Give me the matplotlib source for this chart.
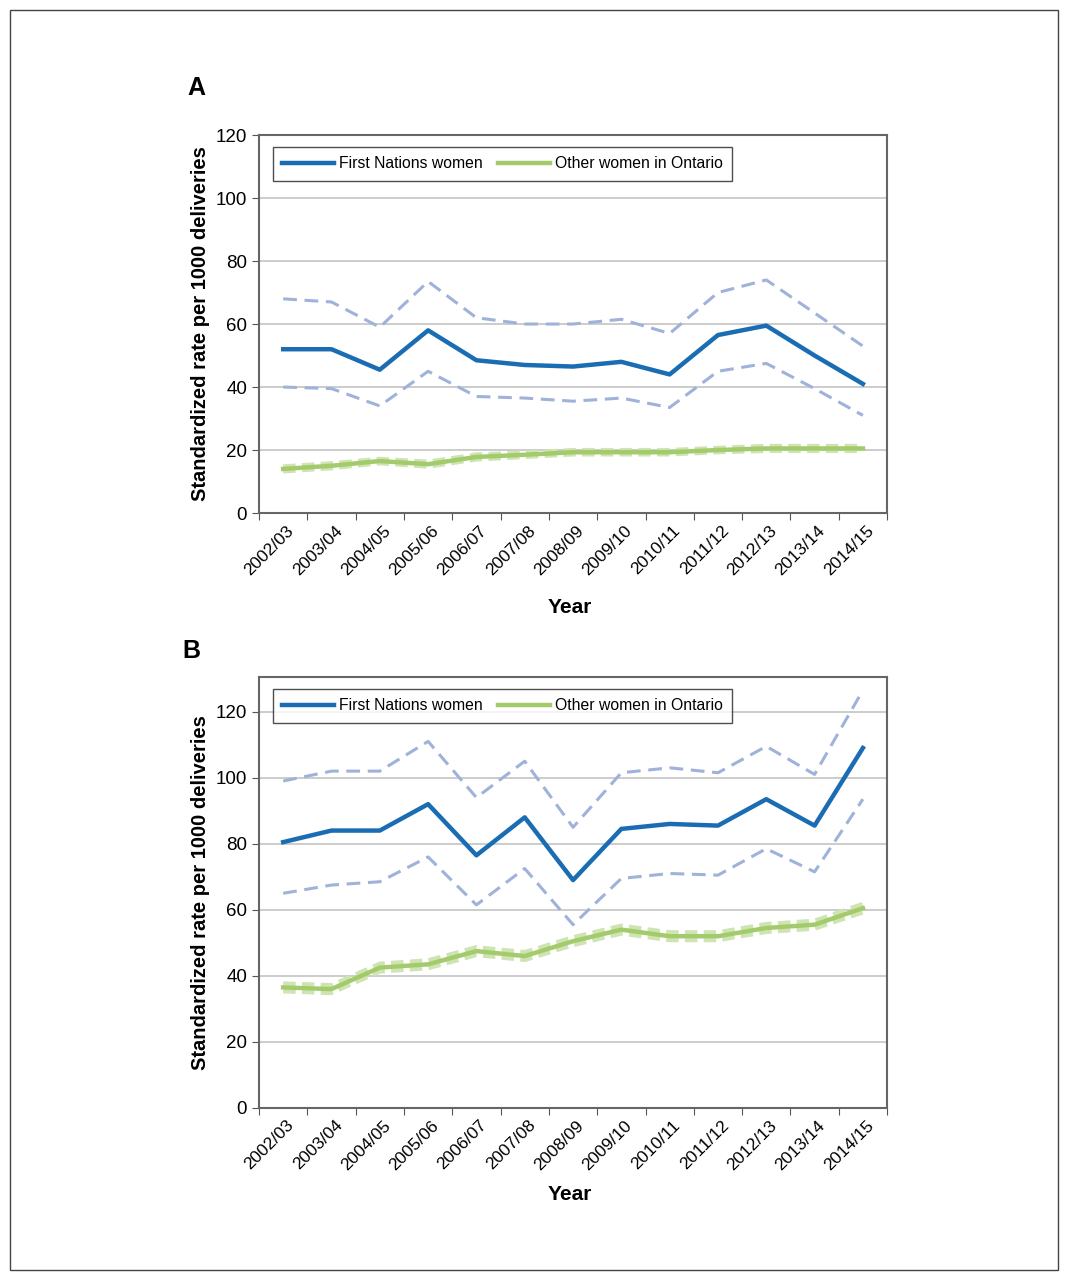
import matplotlib.pyplot as plt
from matplotlib.patches import Rectangle
from matplotlib.transforms import ScaledTranslation

plt.rcParams['font.family'] = ['Liberation Sans', 'DejaVu Sans']

years = ['2002/03', '2003/04', '2004/05', '2005/06', '2006/07', '2007/08', '2008/09',
         '2009/10', '2010/11', '2011/12', '2012/13', '2013/14', '2014/15']

# Panel A
a_fn = [52, 52, 45.5, 58, 48.5, 47, 46.5, 48, 44, 56.5, 59.5, 50, 41]
a_fn_hi = [68, 67, 59, 73.5, 62, 60, 60, 61.5, 57, 70, 74, 63.5, 53]
a_fn_lo = [40, 39.5, 34, 45, 37, 36.5, 35.5, 36.5, 33.5, 45, 47.5, 39.5, 31]
a_ot = [14, 15, 16.5, 15.5, 17.8, 18.5, 19.3, 19.3, 19.3, 20, 20.5, 20.5, 20.5]
a_ot_hi = [14.8, 15.8, 17.2, 16.3, 18.6, 19.2, 20, 20, 20, 20.7, 21.3, 21.3, 21.3]
a_ot_lo = [13.2, 14.2, 15.8, 14.7, 17, 17.8, 18.6, 18.6, 18.6, 19.3, 19.7, 19.7, 19.7]

# Panel B
b_fn = [80.5, 84, 84, 92, 76.5, 88, 69, 84.5, 86, 85.5, 93.5, 85.5, 109]
b_fn_hi = [99, 102, 102, 111, 94, 105, 85, 101.5, 103, 101.5, 109.5, 101, 126.5]
b_fn_lo = [65, 67.5, 68.5, 76, 61.5, 72.5, 55.5, 69.5, 71, 70.5, 78.5, 71.5, 93.5]
b_ot = [36.5, 36, 42.5, 43.5, 47.5, 46, 50.5, 54, 52, 52, 54.5, 55.5, 60.5]
b_ot_hi = [37.7, 37.2, 43.7, 44.7, 48.7, 47.2, 51.7, 55.2, 53.2, 53.2, 55.7, 56.7, 61.8]
b_ot_lo = [35.3, 34.8, 41.3, 42.3, 46.3, 44.8, 49.3, 52.8, 50.8, 50.8, 53.3, 54.3, 59.2]

blue = '#1a6db3'
blue_ci = '#9fb2da'
green = '#a3cb6b'
green_ci = '#cfe4b3'

fig = plt.figure(figsize=(10.69, 12.8), dpi=100)
fig.patches.append(Rectangle((10 / 1069, 10 / 1280), 1048 / 1069, 1260 / 1280,
                             transform=fig.transFigure, fill=False,
                             edgecolor='#444444', linewidth=1.0))


def panel(ax, fn, fn_hi, fn_lo, ot, ot_hi, ot_lo, ymax, year_y):
    x = list(range(len(years)))
    ax.plot(x, ot_hi, color=green_ci, lw=3, ls=(0, (3, 1.5)), zorder=2)
    ax.plot(x, ot_lo, color=green_ci, lw=3, ls=(0, (3, 1.5)), zorder=2)
    ax.plot(x, fn_hi, color=blue_ci, lw=2.2, ls=(0, (4.5, 2.5)), zorder=2)
    ax.plot(x, fn_lo, color=blue_ci, lw=2.2, ls=(0, (4.5, 2.5)), zorder=2)
    ax.plot(x, fn, color=blue, lw=3.2, label='First Nations women', zorder=3)
    ax.plot(x, ot, color=green, lw=3.2, label='Other women in Ontario', zorder=3)

    ax.set_xlim(-0.5, len(years) - 0.5)
    ax.set_ylim(0, ymax)
    ax.set_yticks(range(0, 121, 20))
    ax.yaxis.grid(True, color='#c4c4c4', lw=1.2)
    ax.set_axisbelow(True)
    ax.set_xticks([i + 0.5 for i in range(-1, len(years))], minor=False)
    ax.set_xticklabels([])
    ax.set_xticks(x, minor=True)
    ax.set_xticklabels(years, minor=True, rotation=45, ha='right',
                       rotation_mode='anchor', fontsize=12.5)
    ax.tick_params(axis='x', which='minor', length=0, pad=7)
    ax.tick_params(axis='x', which='major', length=5, color='#555555')
    ax.tick_params(axis='y', length=5, color='#555555', labelsize=13.5)
    shift = ScaledTranslation(3 / 100, 0, fig.dpi_scale_trans)
    for lab in ax.get_xticklabels(minor=True):
        lab.set_transform(lab.get_transform() + shift)
    for s in ax.spines.values():
        s.set_color('#666666')
        s.set_linewidth(1.5)
    ax.set_ylabel('Standardized rate per 1000 deliveries', fontsize=14.5,
                  fontweight='bold', labelpad=4)
    ax.text(0.495, year_y, 'Year', transform=ax.transAxes, fontsize=15,
            fontweight='bold', ha='center', va='center')
    leg = ax.legend(loc='upper left', ncol=2, fontsize=11.3, frameon=True,
                    fancybox=False, edgecolor='#222222', handlelength=3.3,
                    handletextpad=0.3, borderaxespad=0.75, columnspacing=1.0,
                    borderpad=0.6, bbox_to_anchor=(0.003, 1.0))
    leg.get_frame().set_linewidth(1.0)


axA = fig.add_axes([0.2423, 0.5992, 0.5875, 0.2953])
panel(axA, a_fn, a_fn_hi, a_fn_lo, a_ot, a_ot_hi, a_ot_lo, 120, -0.249)

axB = fig.add_axes([0.2423, 0.1344, 0.5875, 0.3367])
panel(axB, b_fn, b_fn_hi, b_fn_lo, b_ot, b_ot_hi, b_ot_lo, 130.5, -0.2)

fig.text(187 / 1069, 1 - 88 / 1280, 'A', fontsize=18, fontweight='bold',
         ha='left', va='center')
fig.text(182 / 1069, 1 - 651 / 1280, 'B', fontsize=18, fontweight='bold',
         ha='left', va='center')

fig.savefig('out.png', dpi=100)
